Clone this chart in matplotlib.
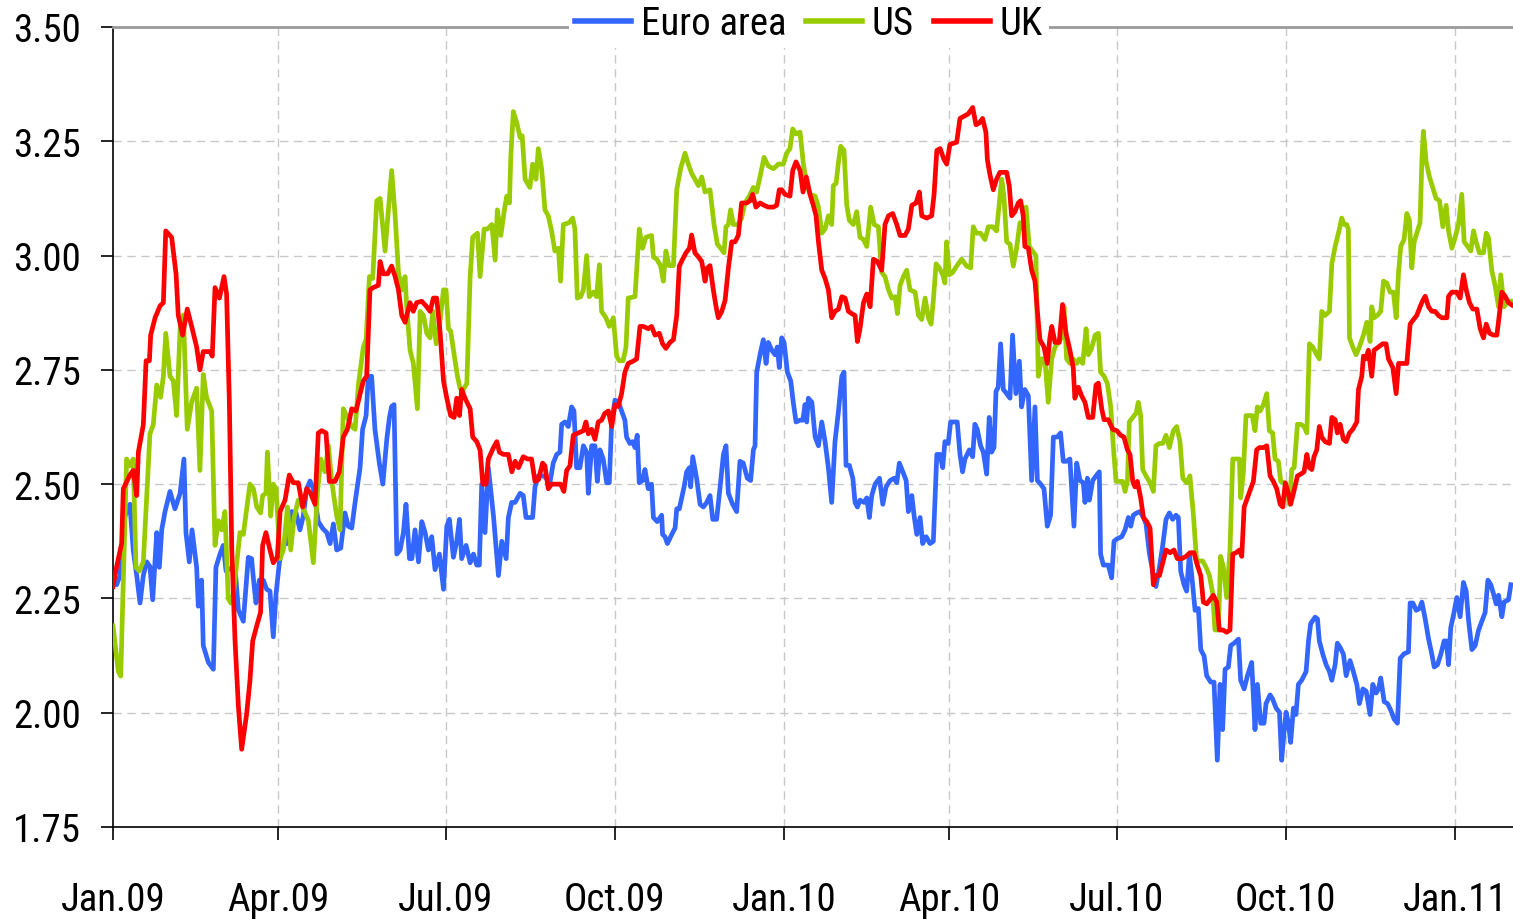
import matplotlib
matplotlib.use("Agg")
import matplotlib.pyplot as plt
from matplotlib import font_manager as fm
import pandas as pd
import numpy as np

# ---------------- data (day offset from 2009-01-01, value) ----------------
euro_days = [0, 2, 3.8, 6.5, 9.2, 11, 12.9, 14.7, 16.5, 18.3, 20.1, 21.6, 23.8, 25.2, 26.5, 28.3, 31, 33.7, 36.5, 38.6,
             39.7, 41.5, 43, 45.5, 46.4, 48.2, 49.1, 51.9, 54.6, 56, 58.2, 60, 61.5, 63.7, 66.4, 68.2,
             70.9, 73.6, 75.4, 76.7, 77.8, 79.6, 81.8, 83.6, 85.4, 87.2, 88.7, 90.5, 92.3, 94.5, 97.2, 99.6, 101.7,
             103.5, 105.4, 107.2, 109, 111.7, 114.1, 116.3, 118.1, 119.9, 121.7, 123.9, 126.2, 128, 129.9, 131.7,
             133, 134.4, 135.8, 137.7, 138.9, 140.7, 142.5, 144.9, 146.8, 149, 150.4, 151.6, 152.9, 154.4, 156.2,
             158, 159.4, 161.3, 162.6, 164.3, 166.2, 168, 169.8, 171.6, 173.4, 175.2, 177.6, 179.8, 181.6, 183,
             185.2, 187, 188.5, 189.7, 192.1, 194.3, 196.1, 197.9, 199.3, 200.6, 202.4, 204.2, 207, 209.7, 211.5,
             213.9, 215.1, 216.9, 218.7, 221.5, 223.2, 224.7, 228.3, 229.6, 231.4, 234.5, 237.7, 239.5, 241.4,
             243.2, 244.1, 245.9, 247.7, 249.5, 250.8, 252.2, 254, 255.9, 257.7, 258.6, 260.4, 262.2, 263.5, 264.9,
             266.7, 268.6, 270, 271.3, 273.1, 274.9, 276.7, 278.5, 279.4, 281.2, 282.7, 284, 285.2, 286.3, 288.1,
             289.4, 291.2, 293, 294, 296.1, 298.5, 299, 300.3, 301.6, 304, 305.8, 306.7, 308.1, 309.4, 310.7,
             312.1, 313.6, 314.3, 315.4, 317.5, 319.4, 321.2, 323, 324.8, 326.3, 328.4, 330.2, 332.1, 333.5,
             334.8, 337.1, 339.3, 341.1, 342.9, 345.1, 346.9, 348.4, 349.3, 350.2, 352, 353.8, 355.3, 356.5,
             358.4, 360.2, 361.4, 362.5, 363.8, 365.1, 366.9, 368.7, 370.1, 371.6, 373.8, 375.3, 376.5, 377.4,
             378.3, 380.2, 382, 383.8, 385.6, 387.4, 389.2, 391, 392.8, 394.7, 396.5, 397.7, 398.8, 400.6, 402.5,
             403.7, 405, 406.4, 408.6, 410.1, 411.5, 412.8, 414.6, 417, 418.8, 420.6, 422.8, 425, 426.4, 427.8,
             429.7, 431.5, 432.7, 434.6, 435.8, 437.3, 439.1, 440.5, 442.4, 444.5, 446.3, 448.2, 450, 451.4,
             452.6, 454.4, 455.7, 459.3, 460.8, 462.2, 463.5, 465.9, 467.7, 468.9, 470.2, 472, 473.5, 475.3,
             476.7, 478, 479.3, 480.4, 481.6, 482.9, 484.4, 486.2, 488, 489.4, 491.2, 493.1, 494.3, 496.1, 498,
             499.8, 501.6, 502.9, 504.7, 506.5, 508.3, 510.1, 511.6, 513.7, 515.5, 517, 518.8, 520.6, 522.8,
             524.3, 526.1, 527.9, 528.8, 530.1, 531.2, 533, 534.8, 536.6, 537.3, 538.8, 541.5, 543.3, 544.6,
             546.1, 548.8, 550.6, 552.4, 553.7, 555.1, 556.9, 558.7, 560.6, 562, 563.8, 565.6, 567.4, 569.3,
             571.1, 572.9, 574.7, 576.5, 578.3, 579.6, 580.9, 582.7, 584.1, 585.6, 586.9, 588.7, 590.5, 591.8,
             593.6, 595, 597.2, 599, 600.8, 602.3, 603.7, 605, 606.8, 608.1, 609.9, 612.3, 613.5, 615.4, 617.2,
             619.5, 621.3, 622.6, 624.4, 626.2, 627.3, 629.5, 630.9, 632.8, 634.6, 635.8, 637.1, 638.2, 639.5,
             640.7, 642.2, 643.6, 644.9, 646.7, 649.1, 650.4, 651.6, 654, 655.3, 656.3, 658.2, 660, 661.8, 663.1,
             664.9, 666.1, 667.6, 669.4, 670.9, 673, 674.8, 676.7, 678.1, 680, 681.8, 683.9, 685.4, 687.2, 688.5,
             689.7, 691.6, 693.4, 695.2, 697, 698.8, 700.3, 702.4, 704.8, 705.7, 707.2, 709, 710.8, 712.1, 713.9,
             715.7, 717.5, 718.8, 720.6, 722.4, 724.2, 725.4, 726.6, 727.8, 729.3, 731.1, 732.9, 734.7, 736.2,
             737.4, 739.3, 741.1, 742.9, 744.7, 746.5, 748, 749.6, 751, 752.5, 753.8, 755.6, 756.8, 759.2, 760.5]
euro_vals = [2.29, 2.28, 2.30, 2.43, 2.456, 2.356, 2.30, 2.24, 2.30, 2.33, 2.32, 2.247, 2.394, 2.318, 2.40, 2.44, 2.484,
             2.446, 2.48, 2.555, 2.394, 2.33, 2.40, 2.318, 2.233, 2.29, 2.147, 2.11, 2.095, 2.318, 2.347, 2.366,
             2.31, 2.315, 2.318, 2.225,
             2.20, 2.34, 2.337, 2.28, 2.24, 2.29, 2.29, 2.27, 2.266, 2.166, 2.26, 2.328, 2.366, 2.37, 2.44, 2.437,
             2.40, 2.43, 2.49, 2.507, 2.49, 2.418, 2.403, 2.394, 2.37, 2.413, 2.356, 2.36, 2.437, 2.408, 2.404,
             2.46, 2.497, 2.536, 2.62, 2.65, 2.736, 2.736, 2.62, 2.546, 2.50, 2.60, 2.646, 2.67, 2.674, 2.347,
             2.356, 2.394, 2.456, 2.337, 2.337, 2.40, 2.33, 2.418, 2.394, 2.356, 2.385, 2.313, 2.347, 2.27, 2.408,
             2.423, 2.34, 2.375, 2.423, 2.337, 2.366, 2.328, 2.347, 2.323, 2.323, 2.50, 2.394, 2.536, 2.43, 2.30,
             2.375, 2.337, 2.427, 2.46, 2.46, 2.48, 2.475, 2.427, 2.427, 2.494, 2.518, 2.518, 2.503, 2.546, 2.565,
             2.57, 2.631, 2.636, 2.626, 2.669, 2.66, 2.536, 2.536, 2.584, 2.57, 2.48, 2.584, 2.584, 2.506, 2.575,
             2.555, 2.503, 2.503, 2.636, 2.684, 2.68, 2.66, 2.64, 2.603, 2.589, 2.593, 2.58, 2.607, 2.503, 2.508,
             2.532, 2.49, 2.50, 2.427, 2.418, 2.432, 2.39, 2.385, 2.37, 2.39, 2.404, 2.446, 2.446, 2.47, 2.494,
             2.527, 2.536, 2.494, 2.56, 2.513, 2.456, 2.45, 2.46, 2.475, 2.423, 2.423, 2.49, 2.565, 2.584,
             2.48, 2.456, 2.44, 2.55, 2.546, 2.513, 2.508, 2.575, 2.584, 2.745, 2.783, 2.816, 2.764, 2.81,
             2.793, 2.783, 2.80, 2.755, 2.82, 2.81, 2.745, 2.726, 2.679, 2.636, 2.64, 2.64, 2.674, 2.636,
             2.688, 2.679, 2.603, 2.584, 2.636, 2.593, 2.536, 2.46, 2.593, 2.66, 2.736, 2.745, 2.541, 2.541, 2.513,
             2.46, 2.45, 2.465, 2.46, 2.47, 2.427, 2.475, 2.50, 2.513, 2.456, 2.494, 2.508, 2.513, 2.503, 2.546,
             2.527, 2.508, 2.44, 2.475, 2.432, 2.39, 2.427, 2.37, 2.385, 2.37, 2.375, 2.565, 2.565, 2.536,
             2.593, 2.589, 2.636, 2.636, 2.565, 2.527, 2.555, 2.575, 2.56, 2.631, 2.62, 2.584, 2.57, 2.522,
             2.646, 2.57, 2.58, 2.703, 2.712, 2.807, 2.707, 2.698, 2.688, 2.826, 2.698, 2.769, 2.669, 2.707, 2.693,
             2.508, 2.669, 2.508, 2.50, 2.49, 2.408, 2.432, 2.603, 2.603, 2.612, 2.55, 2.55, 2.555, 2.408,
             2.546, 2.508, 2.503, 2.46, 2.513, 2.465, 2.508, 2.518, 2.527, 2.347, 2.323, 2.323, 2.295, 2.375,
             2.38, 2.385, 2.40, 2.427, 2.408, 2.432, 2.437, 2.44, 2.427, 2.413, 2.35, 2.309, 2.276, 2.318,
             2.366, 2.423, 2.437, 2.423, 2.432, 2.427, 2.309, 2.28, 2.266, 2.347, 2.30, 2.224, 2.228, 2.138,
             2.124, 2.081, 2.067, 2.067, 1.896, 2.062, 1.963, 2.095, 2.10, 2.147, 2.152, 2.161, 2.071, 2.052, 2.081,
             2.11, 1.963, 2.062, 1.977, 1.977, 2.02, 2.039, 2.03, 2.01, 2.001, 1.896, 1.957, 2.001, 1.977,
             1.935, 2.01, 1.996, 2.062, 2.071, 2.09, 2.157, 2.195, 2.209, 2.205, 2.157, 2.128, 2.105, 2.09, 2.071,
             2.105, 2.152, 2.143, 2.128, 2.081, 2.114, 2.09, 2.062, 2.02, 2.052, 2.047, 1.996, 2.062, 2.043, 2.052,
             2.076, 2.024, 2.02, 2.005, 1.986, 1.977, 2.119, 2.129, 2.133, 2.24, 2.24, 2.224, 2.228, 2.242, 2.205,
             2.162, 2.128, 2.10, 2.105, 2.128, 2.157, 2.157, 2.105, 2.186, 2.214, 2.252, 2.21, 2.285, 2.266,
             2.205, 2.138, 2.147, 2.18, 2.20, 2.219, 2.29, 2.28, 2.261, 2.238, 2.257, 2.21, 2.242, 2.247, 2.28]

us_days = [0, 2.9, 4.2, 7.4, 9.2, 11, 12.5, 14.3, 16.5, 20.1, 21.9, 23.8, 25.9, 27.4, 28.7, 31, 32.8, 34.6, 36.5, 38.3,
           40.4, 42.8, 45.5, 47.3, 49.1, 50.9, 53.7, 55.5, 57.3, 59.1, 60.9, 62.7, 64, 65.5, 69.1, 70.9, 74.5, 76.4,
           78.2, 80.3, 81.4, 83.2, 84, 85.8, 87.2, 88.7, 90.9, 92.7, 94.9, 96.7, 98.5, 100.8, 103.2, 106.3, 109,
           111.2, 113, 115.3, 117.2, 119, 121.7, 123.5, 125.3, 127.5, 129.9, 131.7, 133.5, 136.2, 137.7, 139.5,
           141.3, 143.5, 145.3, 148, 151.6, 153.5, 155.3, 157.1, 158.9, 159.8, 161.6, 163.4, 165.6, 167.1, 168.9,
           170.7, 172.5, 174, 175.8, 177.6, 179.8, 181.2, 182.5, 183.7, 185.6, 187.4, 188.8, 190.6, 192.5, 194.3,
           195.7, 198.3, 199.7, 201.9, 203.7, 206.1, 207.9, 209.1, 211, 212.8, 214.2, 215.7, 216.4, 217.8, 219.7,
           221.5, 222.6, 224.2, 226.8, 228.3, 230.1, 231.4, 233.2, 235, 236.8, 238.6, 240.4, 242.3, 243.5, 245,
           248.2, 250.1, 251.3, 252.6, 254.4, 255.9, 257.7, 259.1, 261.3, 263.1, 264.6, 265.8, 268.2, 270, 272.2,
           274, 275.4, 277.5, 279.1, 280.3, 284, 286.3, 288.1, 289.9, 293, 294, 295.8, 297.9, 299.4, 300.8, 302.5,
           304.9, 306.7, 308.8, 311.2, 313, 314.8, 316.6, 318.5, 320.3, 322.1, 324.8, 327, 328.8, 330.6, 332.4,
           333.5, 334.8, 336, 337.5, 340.2, 342, 343.8, 346.2, 348.4, 350.2, 352, 354.2, 356.5, 359.3, 362, 364.7,
           366.5, 368.3, 369.8, 371.6, 373.8, 375.6, 377.4, 379.2, 382, 383.8, 385.6, 387.4, 389.2, 391, 391.9,
           393.4, 394.7, 395.9, 397.7, 399.2, 400.6, 402.8, 404.6, 406.4, 408.3, 410.1, 412.2, 414.1, 416.4,
           418.2, 420, 421.9, 423.7, 425.5, 426.8, 428.2, 430, 431.8, 433.6, 436.4, 438.2, 440, 441.8, 443.6,
           445.1, 446.3, 447.8, 449.6, 451.4, 452.6, 453.5, 455, 456.8, 459, 461.7, 464.4, 466.6, 468, 469.8, 472,
           474.4, 476.2, 478.6, 480.7, 482.2, 483.5, 484.7, 486.2, 488, 489.8, 491.6, 493.4, 495.2, 496.7, 498.5,
           500.3, 502.1, 503.4, 505.2, 507, 508.8, 510.7, 512.5, 514.3, 516.1, 517.4, 518.8, 520.6, 522.4, 524.3,
           525.7, 527.6, 529.4, 530.6, 532.4, 534.3, 536.1, 537.3, 539.2, 541, 542.8, 544.2, 545.7, 547.9, 549.3,
           550.6, 551.9, 552.9, 554.8, 556.6, 557.8, 559.1, 560.2, 562, 564.2, 566, 567.4, 569.3, 571.1, 572.9,
           574.7, 576.9, 578.7, 580.5, 582, 584.1, 585.9, 587.8, 589.6, 591, 592.8, 594.7, 596.5, 598.3, 599.5,
           601.4, 602.6, 604.1, 605.9, 607.7, 609.2, 612.8, 613.5, 615, 616.4, 619.8, 621.3, 622.6, 624.1, 625.9,
           627.7, 629.1, 630.9, 632.2, 634, 635.3, 637.1, 638.6, 640, 641.3, 642.6, 644.4, 646.2, 648, 649.5,
           650.9, 652.7, 654.9, 656.3, 657.6, 659.4, 661.8, 663.1, 664.9, 666.7, 668.5, 669.8, 671.2, 672.1,
           672.7, 674.5, 676.3, 678.1, 680.3, 682.1, 683.9, 684.8, 686.1, 687.9, 689.7, 691.2, 693, 694.8, 696.6,
           698.1, 699.4, 700.6, 702.4, 703.9, 705.3, 706.6, 707.9, 709.7, 711.1, 712.1, 712.9, 714.4, 716.2, 718,
           719.8, 721.7, 723.5, 725.3, 726.6, 728.4, 730.2, 732, 733.8, 735.1, 737, 738.7, 740.2, 741.6, 743.4,
           745.6, 747.1, 748.3, 750.1, 751.9, 753.8, 755, 756.8, 758.3, 760.5]
us_vals = [2.19, 2.09, 2.08, 2.555, 2.54, 2.555, 2.318, 2.31, 2.33, 2.61, 2.63, 2.717, 2.69, 2.736, 2.83, 2.736, 2.726,
           2.65, 2.84, 2.87, 2.62, 2.68, 2.71, 2.53, 2.74, 2.69, 2.66, 2.366, 2.42, 2.40, 2.44, 2.25, 2.24, 2.26,
           2.394, 2.39, 2.50, 2.49, 2.45, 2.437, 2.475, 2.48, 2.57, 2.43, 2.50, 2.49, 2.337, 2.356, 2.45, 2.356,
           2.427, 2.465, 2.45, 2.42, 2.328, 2.48, 2.555, 2.527, 2.584, 2.506, 2.43, 2.40, 2.665, 2.646, 2.626,
           2.62, 2.717, 2.80, 2.816, 2.954, 2.95, 3.12, 3.125, 3.01, 3.186, 3.087, 2.963, 2.925, 2.954, 2.888,
           2.793, 2.764, 2.665, 2.878, 2.869, 2.83, 2.82, 2.878, 2.807, 2.845, 2.925, 2.925, 2.84, 2.835, 2.783,
           2.736, 2.71, 2.707, 2.72, 2.954, 3.04, 3.049, 2.954, 3.058, 3.058, 3.068, 2.99, 3.10, 3.044, 3.096,
           3.13, 3.115, 3.215, 3.315, 3.29, 3.258, 3.262, 3.167, 3.149, 3.20, 3.167, 3.234, 3.19, 3.10, 3.087,
           3.054, 3.01, 3.016, 2.944, 3.068, 3.072, 3.082, 3.058, 2.907, 2.91, 2.925, 3.00, 2.91, 2.92, 2.91, 2.98,
           2.878, 2.864, 2.845, 2.864, 2.78, 2.77, 2.77, 2.80, 2.907, 2.91, 3.058, 3.016, 3.04, 3.044, 2.997,
           2.992, 2.978, 2.944, 3.01, 2.978, 2.978, 3.144, 3.19, 3.224, 3.20, 3.18, 3.167, 3.153, 3.172, 3.139,
           3.144, 3.068, 3.025, 3.016, 3.006, 3.063, 3.068, 3.10, 3.068, 3.068, 3.082, 3.115, 3.13, 3.149, 3.139,
           3.172, 3.215, 3.196, 3.19, 3.20, 3.20, 3.224, 3.234, 3.277, 3.266, 3.27, 3.20, 3.158, 3.134, 3.13,
           3.106, 3.049, 3.058, 3.087, 3.068, 3.153, 3.158, 3.205, 3.239, 3.23, 3.11, 3.077, 3.068, 3.096, 3.04,
           3.035, 3.02, 3.106, 3.068, 3.063, 2.963, 2.954, 2.925, 2.907, 2.91, 2.873, 2.935, 2.954, 2.968, 2.925,
           2.92, 2.869, 2.86, 2.907, 2.864, 2.85, 2.902, 2.982, 2.973, 2.958, 2.94, 3.03, 2.958, 2.963, 2.977,
           2.992, 2.977, 2.973, 3.063, 3.049, 3.049, 3.035, 3.063, 3.063, 3.054, 3.115, 3.167, 3.13, 3.03, 3.025,
           2.977, 3.016, 3.072, 3.058, 3.106, 3.02, 3.01, 3.00, 2.736, 2.774, 2.774, 2.679, 2.774, 2.80, 2.81,
           2.82, 2.888, 2.774, 2.764, 2.774, 2.764, 2.774, 2.764, 2.84, 2.783, 2.797, 2.826, 2.83, 2.745, 2.736,
           2.72, 2.669, 2.584, 2.506, 2.506, 2.506, 2.484, 2.506, 2.636, 2.646, 2.655, 2.679, 2.65, 2.532, 2.518,
           2.503, 2.484, 2.584, 2.589, 2.589, 2.607, 2.58, 2.617, 2.626, 2.593, 2.513, 2.503, 2.518, 2.432,
           2.328, 2.332, 2.332, 2.318, 2.30, 2.261, 2.181, 2.181, 2.342, 2.318, 2.252, 2.356, 2.555, 2.555, 2.47,
           2.527, 2.65, 2.65, 2.617, 2.669, 2.66, 2.674, 2.698, 2.617, 2.612, 2.555, 2.55, 2.506, 2.503, 2.49,
           2.456, 2.532, 2.536, 2.631, 2.631, 2.626, 2.612, 2.807, 2.80, 2.783, 2.774, 2.878, 2.869, 2.878, 2.982,
           3.02, 3.049, 3.082, 3.068, 3.068, 3.058, 2.82, 2.80, 2.783, 2.80, 2.826, 2.854, 2.812, 2.888, 2.864,
           2.869, 2.878, 2.944, 2.94, 2.92, 2.92, 2.864, 2.963, 3.02, 3.035, 3.092, 3.077, 2.973, 3.03, 3.054,
           3.072, 3.21, 3.272, 3.205, 3.172, 3.149, 3.125, 3.12, 3.063, 3.11, 3.054, 3.016, 3.04, 3.068, 3.134,
           3.03, 3.02, 3.01, 3.054, 3.03, 3.006, 3.006, 3.049, 3.04, 2.968, 2.935, 2.888, 2.958, 2.888, 2.897,
           2.90]

uk_days = [0, 2, 4.7, 5.6, 9.2, 11, 12.9, 13.8, 16.5, 18, 19.8, 20.5, 22.9, 25.6, 27.4, 28.7, 31.9, 34.3, 35.5, 37.9,
           40.4, 42.8, 45.5, 47.3, 49.1, 52.8, 54, 55.5, 57.9, 60.4, 61.8, 63.3, 64.6, 66.4, 68.2, 70, 72.7, 74.5,
           76, 78.2, 80.3, 81.4, 83.2, 85.4, 87.2, 89.4, 90.9, 93.6, 95.9, 98.1, 100.8, 103.2, 105.4, 107.5, 109.9,
           111.7, 113.5, 115.9, 117.7, 120.8, 123.1, 125.3, 127.5, 129.9, 132.2, 134.4, 136.2, 138, 139.8, 141.6,
           144.4, 145.3, 147.1, 149.4, 151.6, 153.5, 155.3, 157.1, 158.9, 159.8, 161.6, 163.4, 165.2, 168, 170.7,
           172.5, 174.3, 176.1, 178, 179.8, 181.6, 183.7, 185.6, 187, 188.5, 189.7, 191.5, 194.3, 195.7, 197.9,
           199.7, 201.2, 203, 204.2, 207, 208.8, 210.2, 212.4, 215.1, 217, 218.8, 220.6, 223.2, 225.5, 227.7,
           229.6, 231.5, 233.7, 235, 236.8, 238.6, 241.4, 243.5, 245.3, 246.8, 248.6, 250.4, 253.1, 255.9, 257.3,
           258.6, 260.4, 262.2, 264, 265.8, 267.6, 269.5, 271.3, 273.1, 274.9, 276.7, 278.5, 280.3, 283, 284.9,
           286.7, 288.5, 291.2, 293, 294.9, 297.2, 299, 300.8, 303, 304.9, 306.7, 308.1, 309.9, 311.7, 313.6,
           314.8, 316.6, 318.5, 320.3, 322.1, 323.4, 324.8, 326.6, 328.1, 329.3, 331.2, 333, 334.8, 336.6, 338.4,
           340.2, 342, 344.8, 346.6, 348, 349.8, 352, 354.2, 356.5, 359.3, 361.1, 362.5, 363.8, 365.6, 368.3,
           369.8, 371.6, 373.8, 375.4, 377.2, 379.2, 381, 382.5, 383.8, 385.6, 387.4, 389.2, 391, 392.8, 394.7,
           396.5, 398.3, 400.1, 401.9, 403.7, 405, 406.4, 408.3, 410.1, 411.9, 413.7, 415.9, 418.2, 420, 421.9,
           424.2, 426.4, 428.2, 430.9, 432.7, 434.6, 436.9, 438.7, 440, 442.7, 445.4, 446.7, 448.2, 450, 452.1,
           453.6, 455.3, 459, 460.8, 463, 465.3, 467.7, 469.5, 471.3, 473.1, 474.9, 475.7, 477.1, 478.9, 480.7,
           482.5, 486.2, 487.6, 488.9, 490.7, 492.5, 493.8, 495.2, 496.1, 498, 499.8, 501.6, 502.9, 504.3, 506.5,
           508.3, 509.7, 510.7, 512.5, 514.8, 516.6, 518.5, 520.6, 522.4, 523.3, 525.2, 527, 528.8, 530.6, 533,
           534.8, 536.1, 537.9, 539.2, 541.5, 543.9, 546.1, 548.2, 550, 551.9, 553.3, 554.8, 556, 557.3, 559.1,
           560.6, 562.4, 564.2, 566, 567.4, 569.3, 571.1, 572.9, 575.1, 577.2, 579.1, 581.4, 583.8, 585.9, 588.1,
           589.9, 591.8, 593.2, 595, 596.8, 598.6, 600.5, 601.9, 603.8, 605.9, 607.7, 609.2, 611, 612.8, 614.1,
           615.4, 617.2, 619, 620.4, 622.2, 623.7, 625.9, 627.7, 629.5, 631.3, 633.1, 635, 636.4, 637.8, 639.5,
           640.7, 642.2, 644.4, 646.2, 648, 649.5, 650.9, 652.2, 653.4, 654.9, 656.3, 657.6, 659.4, 661.8, 663.1,
           664.9, 666.1, 667.6, 669.4, 670.9, 672.7, 674.5, 676.7, 677.6, 679.4, 680.3, 681.5, 683, 684.8, 686.1,
           688.5, 690.8, 692.6, 693.9, 696.3, 698.1, 699.4, 701.2, 703.9, 705.7, 707.5, 709.3, 711.1, 712.6,
           713.9, 715.7, 717.5, 719.3, 721.1, 722.9, 725.7, 726.6, 728.4, 731.1, 732.9, 734.7, 736.2, 738, 739.8,
           742, 743.8, 745.6, 747.1, 748.9, 751, 752.9, 754.3, 755.6, 757.4, 759.2, 761]
uk_vals = [2.276, 2.32, 2.37, 2.49, 2.52, 2.53, 2.475, 2.57, 2.63, 2.77, 2.77, 2.826, 2.864, 2.89, 2.897, 3.054, 3.04,
           2.96, 2.87, 2.826, 2.883, 2.845, 2.80, 2.75, 2.79, 2.79, 2.78, 2.93, 2.907, 2.954, 2.916, 2.68, 2.36,
           2.157, 2.015, 1.92, 1.997, 2.07, 2.157, 2.19, 2.22, 2.366, 2.394, 2.356, 2.328, 2.34, 2.44, 2.465, 2.52,
           2.503, 2.503, 2.45, 2.49, 2.48, 2.456, 2.612, 2.617, 2.612, 2.506, 2.506, 2.527, 2.603, 2.62, 2.665,
           2.66, 2.697, 2.726, 2.736, 2.925, 2.93, 2.935, 2.987, 2.96, 2.96, 2.977, 2.954, 2.925, 2.869, 2.854,
           2.869, 2.897, 2.878, 2.897, 2.90, 2.888, 2.878, 2.907, 2.907, 2.83, 2.726, 2.688, 2.65, 2.646, 2.688,
           2.65, 2.707, 2.688, 2.665, 2.603, 2.593, 2.575, 2.50, 2.50, 2.555, 2.58, 2.593, 2.57, 2.565, 2.565,
           2.527, 2.55, 2.536, 2.56, 2.555, 2.555, 2.506, 2.51, 2.546, 2.54, 2.49, 2.50, 2.50, 2.50, 2.484, 2.53,
           2.54, 2.607, 2.612, 2.617, 2.636, 2.61, 2.62, 2.598, 2.636, 2.64, 2.655, 2.66, 2.626, 2.674, 2.67,
           2.698, 2.745, 2.764, 2.769, 2.774, 2.845, 2.845, 2.84, 2.845, 2.826, 2.83, 2.807, 2.797, 2.81, 2.816,
           2.869, 2.977, 2.992, 3.006, 3.016, 3.045, 3.006, 2.997, 2.987, 2.944, 2.973, 2.978, 2.925, 2.888,
           2.864, 2.878, 2.902, 2.973, 3.03, 3.03, 3.044, 3.115, 3.115, 3.12, 3.134, 3.106, 3.115, 3.11, 3.106,
           3.106, 3.11, 3.144, 3.144, 3.134, 3.13, 3.186, 3.205, 3.186, 3.139, 3.172, 3.134, 3.11, 3.087, 3.03,
           2.968, 2.95, 2.925, 2.864, 2.878, 2.883, 2.91, 2.907, 2.878, 2.873, 2.869, 2.812, 2.84, 2.897, 2.916,
           2.888, 2.992, 2.987, 2.968, 3.068, 3.087, 3.092, 3.068, 3.044, 3.044, 3.058, 3.11, 3.115, 3.139, 3.087,
           3.082, 3.087, 3.134, 3.23, 3.234, 3.21, 3.20, 3.243, 3.248, 3.30, 3.305, 3.31, 3.324, 3.286, 3.29,
           3.30, 3.27, 3.21, 3.177, 3.144, 3.167, 3.182, 3.182, 3.153, 3.087, 3.096, 3.115, 3.12, 3.087, 3.02,
           3.016, 2.968, 2.944, 2.878, 2.816, 2.80, 2.764, 2.82, 2.845, 2.81, 2.81, 2.893, 2.83, 2.793, 2.755,
           2.688, 2.712, 2.693, 2.679, 2.646, 2.646, 2.717, 2.721, 2.665, 2.641, 2.641, 2.62, 2.617, 2.607, 2.603,
           2.575, 2.565, 2.506, 2.494, 2.506, 2.47, 2.427, 2.418, 2.404, 2.28, 2.30, 2.30, 2.328, 2.356, 2.35,
           2.356, 2.337, 2.337, 2.342, 2.35, 2.35, 2.323, 2.30, 2.242, 2.238, 2.247, 2.257, 2.242, 2.181, 2.181,
           2.176, 2.181, 2.347, 2.35, 2.356, 2.342, 2.45, 2.47, 2.49, 2.506, 2.575, 2.58, 2.58, 2.584, 2.518,
           2.506, 2.49, 2.456, 2.45, 2.503, 2.48, 2.456, 2.48, 2.518, 2.522, 2.527, 2.565, 2.536, 2.532, 2.56,
           2.575, 2.626, 2.603, 2.593, 2.589, 2.646, 2.641, 2.612, 2.631, 2.598, 2.593, 2.612, 2.62, 2.636, 2.707,
           2.736, 2.78, 2.774, 2.793, 2.736, 2.793, 2.80, 2.807, 2.807, 2.774, 2.755, 2.698, 2.764, 2.764, 2.764,
           2.85, 2.86, 2.869, 2.888, 2.902, 2.911, 2.888, 2.878, 2.878, 2.869, 2.864, 2.864, 2.911, 2.92, 2.92,
           2.907, 2.958, 2.925, 2.897, 2.883, 2.883, 2.84, 2.82, 2.85, 2.83, 2.826, 2.826, 2.873, 2.92, 2.911,
           2.897, 2.892]

series_names = ["Euro area", "US", "UK"]
series_colors = ["#3366ff", "#99cc00", "#ff0000"]
tick_labels = ["Jan.09", "Apr.09", "Jul.09", "Oct.09", "Jan.10", "Apr.10", "Jul.10", "Oct.10", "Jan.11"]
tick_dates = ["2009-01-01", "2009-04-01", "2009-07-01", "2009-10-01", "2010-01-01", "2010-04-01",
              "2010-07-01", "2010-10-01", "2011-01-01"]
y_ticks = [1.75, 2.00, 2.25, 2.50, 2.75, 3.00, 3.25, 3.50]

base = pd.Timestamp("2009-01-01")
def to_dates(days):
    return base + pd.to_timedelta(np.asarray(days, dtype=float), unit="D")

# pick a narrow humanist-ish font that is actually installed
font_choice, font_size = "DejaVu Sans", 24
for fam, size in [("Liberation Sans Narrow", 30), ("Roboto Condensed", 28), ("Open Sans Condensed", 28),
                  ("Lato", 27), ("Roboto", 26)]:
    try:
        fm.findfont(fm.FontProperties(family=fam), fallback_to_default=False)
        font_choice, font_size = fam, size
        break
    except Exception:
        continue
plt.rcParams["font.family"] = [font_choice, "DejaVu Sans"]

fig = plt.figure(figsize=(15.13, 9.2), dpi=100)
ax = fig.add_axes([113 / 1513, 92 / 920, 1400 / 1513, 800 / 920])

for days, vals, name, col in [(euro_days, euro_vals, series_names[0], series_colors[0]),
                              (us_days, us_vals, series_names[1], series_colors[1]),
                              (uk_days, uk_vals, series_names[2], series_colors[2])]:
    ax.plot(to_dates(days), vals, color=col, lw=3.4, label=name, solid_joinstyle="round", zorder=3)

ax.set_ylim(1.75, 3.50)
ax.set_xlim(pd.Timestamp("2009-01-01"), pd.Timestamp("2011-02-01 16:00"))
ax.set_yticks(y_ticks)
ax.set_yticklabels([f"{v:.2f}" for v in y_ticks])
ax.set_xticks(pd.to_datetime(tick_dates))
ax.set_xticklabels(tick_labels)

ax.tick_params(axis="y", direction="out", length=9, width=1.2, labelsize=font_size, pad=14, colors="black")
ax.tick_params(axis="x", direction="out", length=9, width=1.2, labelsize=font_size, pad=30, colors="black")

# grid
for v in y_ticks[1:-1]:
    ax.axhline(v, color="#c8c8c8", lw=1.0, linestyle=(0, (6, 4)), zorder=1)
for d in pd.to_datetime(tick_dates[1:]):
    ax.axvline(d, color="#c8c8c8", lw=1.0, linestyle=(0, (6, 4)), zorder=1)

ax.spines["right"].set_visible(False)
ax.spines["top"].set_color("#9a9a9a")
ax.spines["top"].set_linewidth(2.0)
ax.spines["left"].set_linewidth(1.2)
ax.spines["bottom"].set_linewidth(1.2)

leg = ax.legend(loc="center", bbox_to_anchor=(0.497, 1.004), ncol=3, fontsize=font_size, frameon=True,
                handlelength=1.45, handletextpad=0.25, columnspacing=0.5, borderpad=0.15,
                borderaxespad=0)
leg.get_frame().set_facecolor("white")
leg.get_frame().set_edgecolor("none")
leg.get_frame().set_alpha(1.0)
leg.get_frame().set_boxstyle("square", pad=0.0)
for line in leg.get_lines():
    line.set_linewidth(4.0)

fig.savefig("out.png", dpi=100)
